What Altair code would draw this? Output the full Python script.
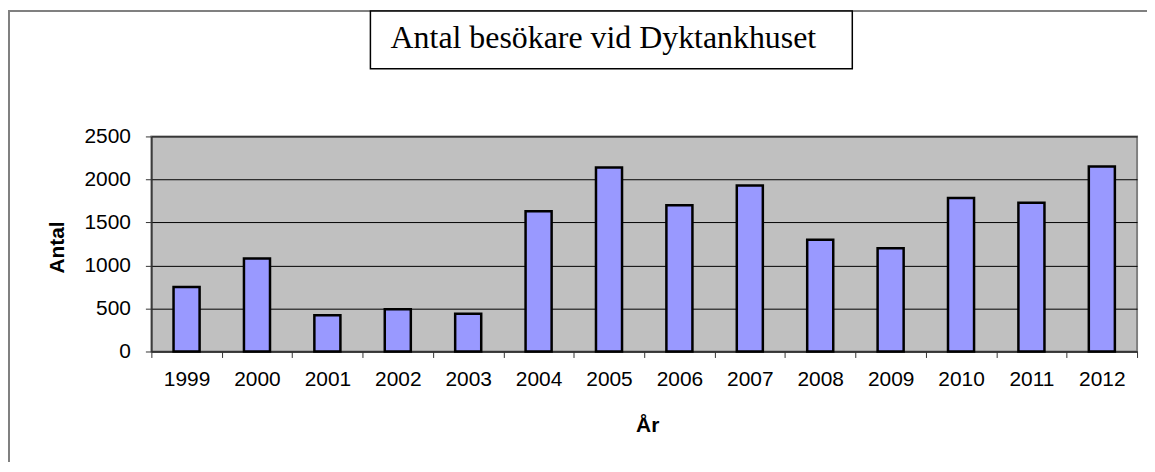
import altair as alt
import pandas as pd

years = ["1999", "2000", "2001", "2002", "2003", "2004", "2005",
         "2006", "2007", "2008", "2009", "2010", "2011", "2012"]
visitors = [750, 1080, 420, 490, 440, 1630, 2140, 1700, 1930, 1300, 1200, 1785, 1730, 2150]
y_ticks = [0, 500, 1000, 1500, 2000, 2500]
title_text = "Antal besökare vid Dyktankhuset"
x_title = "År"
y_title = "Antal"

df = pd.DataFrame({"year": years, "count": visitors})
deco = pd.DataFrame({"t": [title_text]})

bars = alt.Chart(df).mark_bar(
    color="#9999FF", stroke="black", strokeWidth=2.5, strokeJoin="miter",
    width=alt.RelativeBandSize(0.37),
).encode(
    x=alt.X("year:N", sort=years,
            scale=alt.Scale(paddingInner=0, paddingOuter=0),
            axis=alt.Axis(title=x_title, labelAngle=0, tickBand="extent", grid=False,
                          tickSize=6, labelPadding=11, titleX=498, titleY=80,
                          titleBaseline="alphabetic")),
    y=alt.Y("count:Q", scale=alt.Scale(domain=[0, 2500], nice=False),
            axis=alt.Axis(title=y_title, values=y_ticks, format="d", grid=True, tickSize=6,
                          labelPadding=15, titleX=-94, titleY=111, titleAngle=-90,
                          titleBaseline="middle", titleAlign="center")),
)

border_top = alt.Chart(deco).mark_rule(color="#808080", strokeWidth=2).encode(
    x=alt.value(-144), x2=alt.value(1010), y=alt.value(-126))
border_left = alt.Chart(deco).mark_rule(color="#808080", strokeWidth=2).encode(
    x=alt.value(-143), y=alt.value(-126), y2=alt.value(330))
title_box = alt.Chart(deco).mark_rect(fill="white", stroke="black", strokeWidth=1.5).encode(
    x=alt.value(220), x2=alt.value(704), y=alt.value(-126), y2=alt.value(-68))
title_txt = alt.Chart(deco).mark_text(
    font="Liberation Serif", fontSize=32, align="center", baseline="alphabetic", color="black"
).encode(text="t:N", x=alt.value(454), y=alt.value(-89))

chart = alt.layer(border_top, border_left, title_box, title_txt, bars).properties(
    width=990, height=216,
    padding={"left": 144, "top": 128, "right": 10, "bottom": 110},
    autosize="none",
).configure_view(
    fill="#C0C0C0", stroke="#808080", strokeWidth=2
).configure_axis(
    labelFont="Liberation Sans", labelFontSize=21, labelColor="black",
    titleFont="Liberation Sans", titleFontSize=21, titleFontWeight="bold", titleColor="black",
    domainColor="#333333", domainWidth=1.5, tickColor="#333333", tickWidth=1,
    gridColor="black", gridWidth=1, gridOpacity=1,
)

chart.save("out.html", embed_options={"renderer": "svg", "actions": False})
